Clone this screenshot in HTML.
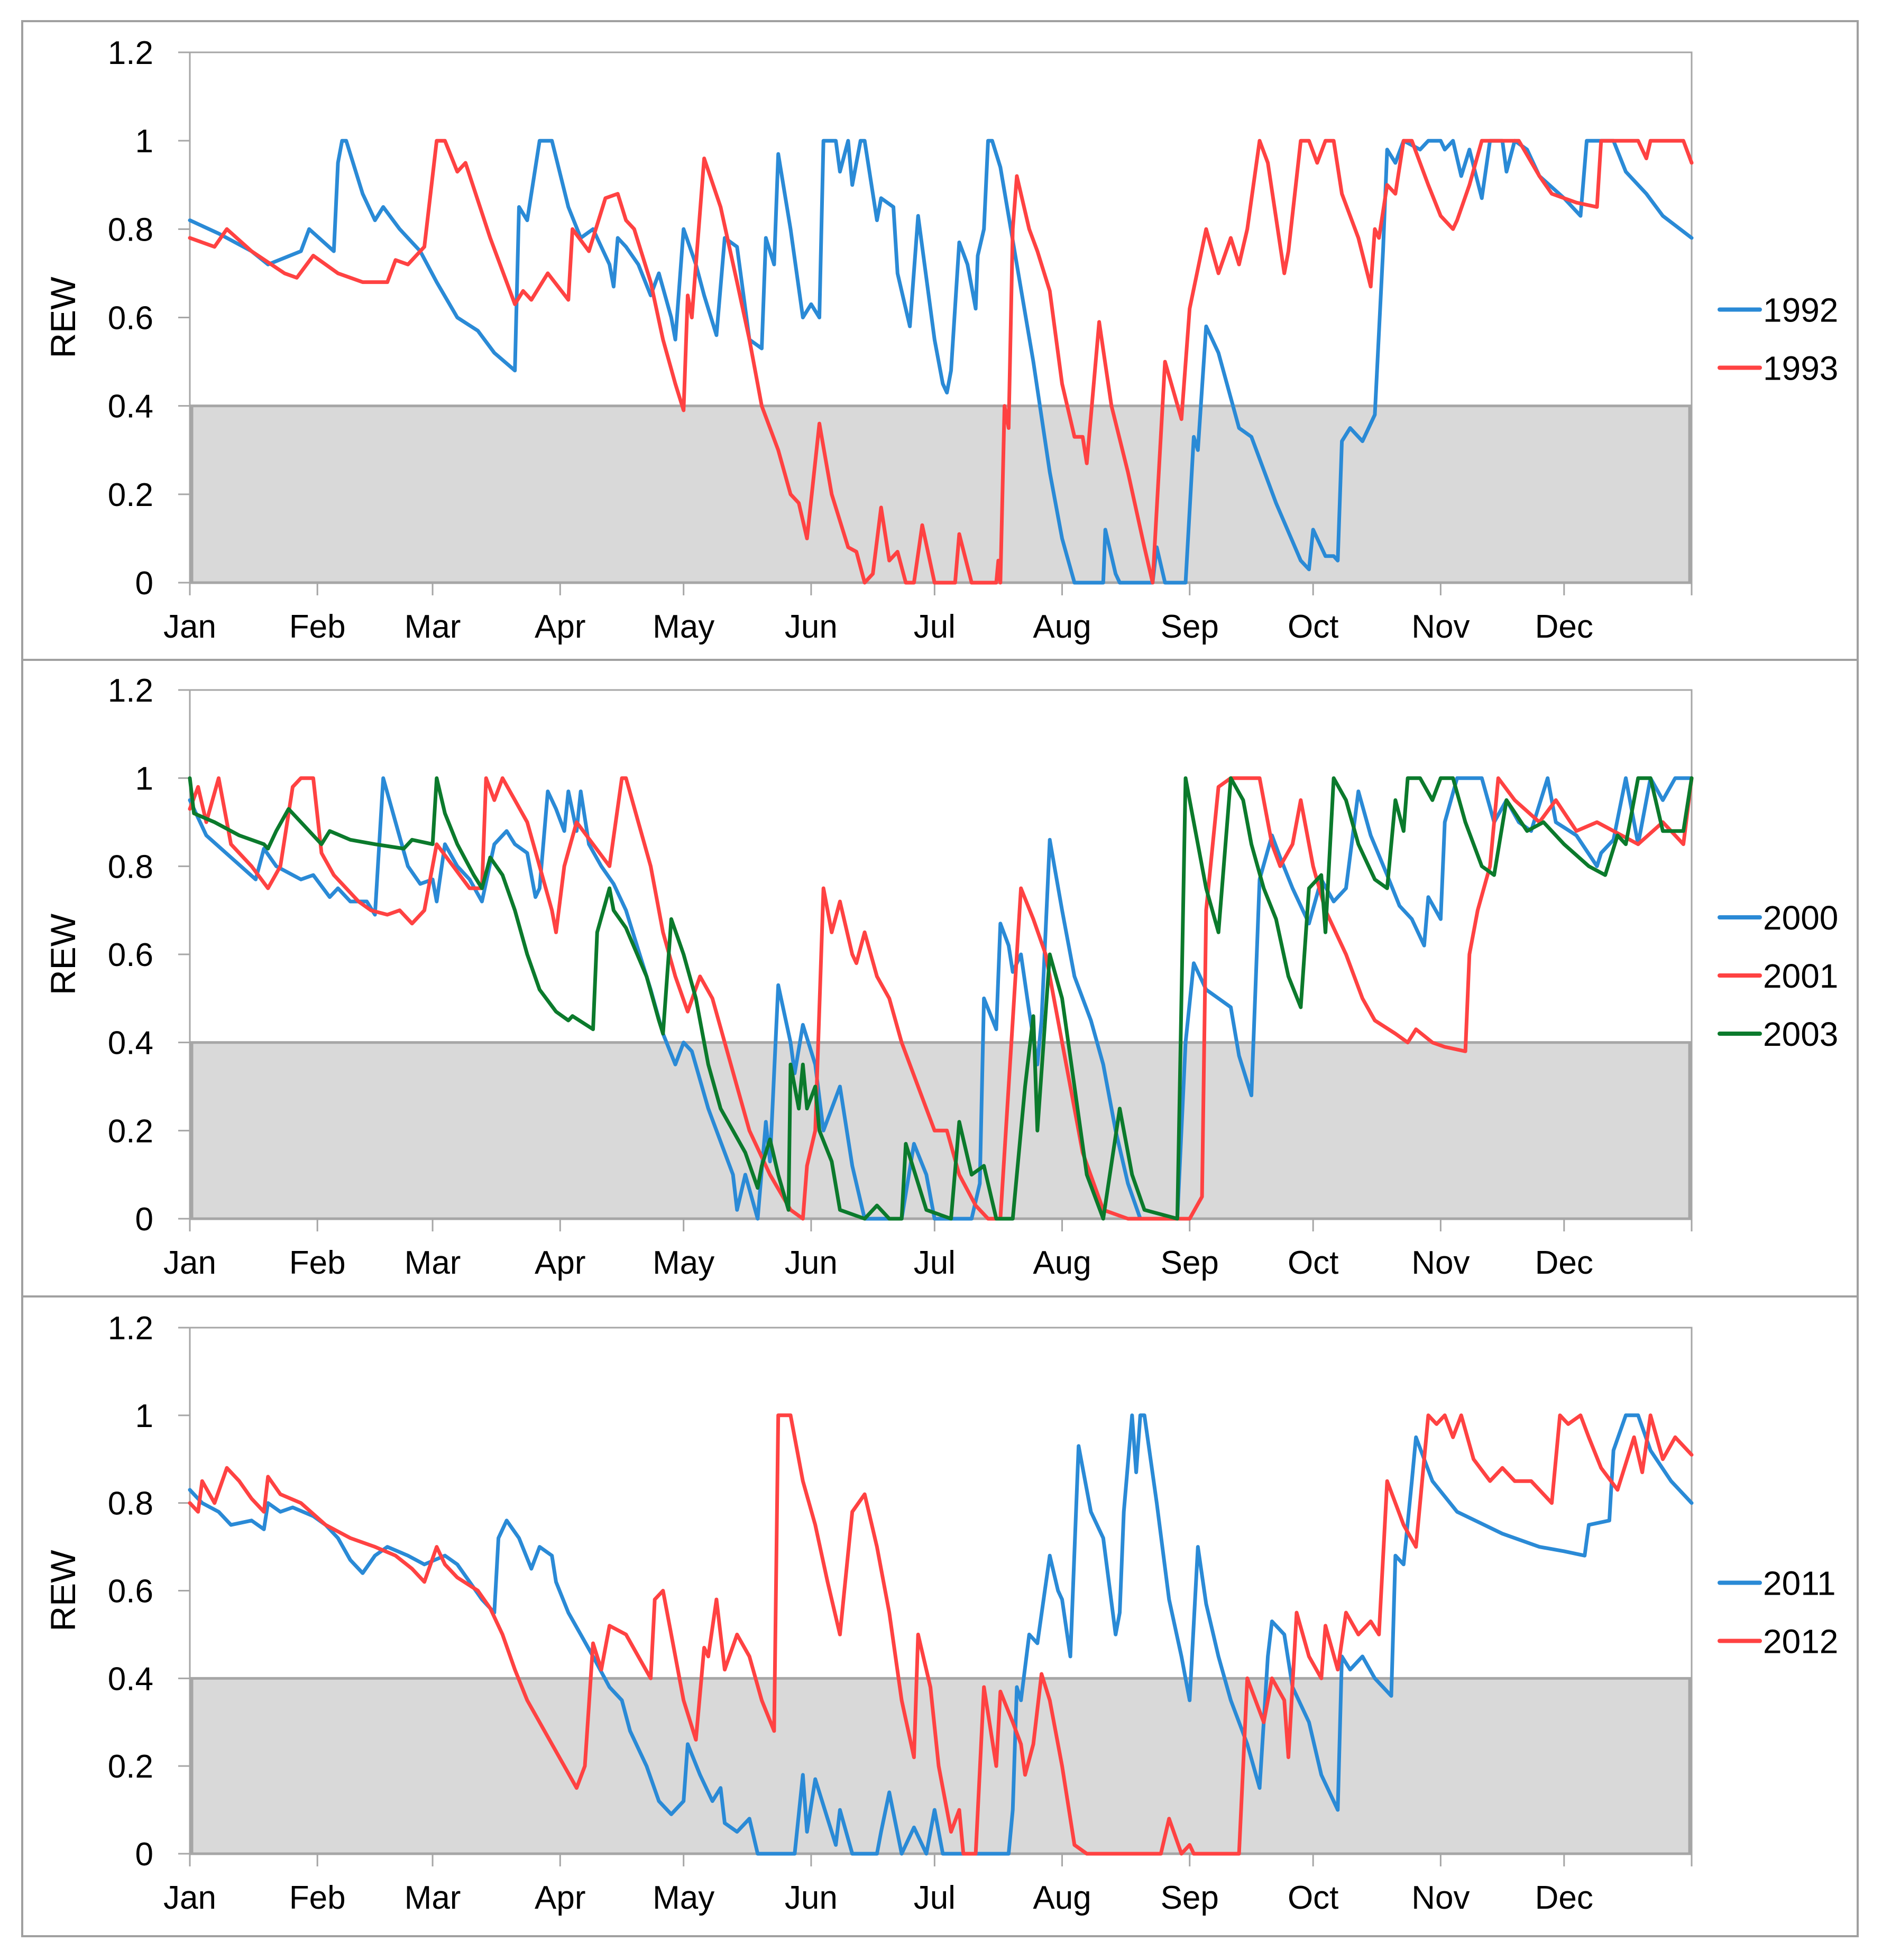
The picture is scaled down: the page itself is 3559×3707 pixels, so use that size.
<!DOCTYPE html>
<html><head><meta charset="utf-8"><style>
html,body{margin:0;padding:0;background:#fff;}
svg{display:block;font-family:"Liberation Sans",sans-serif;}
</style></head><body>
<svg id="chart" width="3559" height="3707" viewBox="0 0 3559 3707" xmlns="http://www.w3.org/2000/svg"></svg>
<script>
// ---- data (day of year, REW) ----
const months = ["Jan","Feb","Mar","Apr","May","Jun","Jul","Aug","Sep","Oct","Nov","Dec"];
const monthStarts = [0,31,59,90,120,151,181,212,243,273,304,334,365];
const yTicks = [0,0.2,0.4,0.6,0.8,1,1.2];
const yTickLabels = ["0","0.2","0.4","0.6","0.8","1","1.2"];
const thresholdValue = 0.4;

const d1992 = [0,7,15,19,27,29,35,36,37,38,42,45,47,51,56,60,65,70,74,79,80,82,83,85,88,92,95,98,102,103,104,106,109,112,114,117,118,120,123,125,128,130,133,136,139,140,142,143,146,149,151,153,154,157,158,160,161,163,164,167,168,171,172,175,177,181,183,184,185,187,189,191,191.5,193,194,195,197,201,205,209,212,215,222,222.5,225,226,234,235,237,242,244,245,247,250,255,258,264,270,272,273,276,278,279,280,282,285,288,290,291,293,295,299,301,304,305,307,309,311,314,316,319,320,322,325,328,334,338,339.5,346,349,354,358,365];
const v1992 = [0.82,0.79,0.75,0.72,0.75,0.8,0.75,0.95,1,1,0.88,0.82,0.85,0.8,0.75,0.68,0.6,0.57,0.52,0.48,0.85,0.82,0.88,1,1,0.85,0.78,0.8,0.72,0.67,0.78,0.76,0.72,0.65,0.7,0.6,0.55,0.8,0.72,0.65,0.56,0.78,0.76,0.55,0.53,0.78,0.72,0.97,0.8,0.6,0.63,0.6,1,1,0.93,1,0.9,1,1,0.82,0.87,0.85,0.7,0.58,0.83,0.55,0.45,0.43,0.48,0.77,0.72,0.62,0.74,0.8,1,1,0.94,0.72,0.5,0.25,0.1,0,0,0.12,0.02,0,0,0.08,0,0,0.33,0.3,0.58,0.52,0.35,0.33,0.18,0.05,0.03,0.12,0.06,0.06,0.05,0.32,0.35,0.32,0.38,0.75,0.98,0.95,1,0.98,1,1,0.98,1,0.92,0.98,0.87,1,1,0.93,1,0.98,0.92,0.87,0.83,1,1,0.93,0.88,0.83,0.78];

const d1993 = [0,6,9,15,23,26,30,36,42,48,50,53,57,60,62,65,67,73,79,81,83,87,92,93,97,101,104,106,108,112,115,118,120,121,122,125,129,133,136,139,143,146,148,150,153,156,160,162,164,166,168,170,172,174,176,178,181,186,187,190,196,196.5,197,198,199,200,201,204,206,209,212,215,217,218,221,224,228,232,234,237,241,243,247,250,253,255,257,260,262,266,267,270,272,274,276,278,280,284,287,288,289,291,293,295,297,301,304,307,308,311,314,323,328,331,337,342,343,352,354,355,363,365];
const v1993 = [0.78,0.76,0.8,0.75,0.7,0.69,0.74,0.7,0.68,0.68,0.73,0.72,0.76,1,1,0.93,0.95,0.78,0.63,0.66,0.64,0.7,0.64,0.8,0.75,0.87,0.88,0.82,0.8,0.68,0.55,0.45,0.39,0.65,0.6,0.96,0.85,0.68,0.55,0.4,0.3,0.2,0.18,0.1,0.36,0.2,0.08,0.07,0,0.02,0.17,0.05,0.07,0,0,0.13,0,0,0.11,0,0,0.05,0,0.4,0.35,0.8,0.92,0.8,0.75,0.66,0.45,0.33,0.33,0.27,0.59,0.4,0.25,0.08,0,0.5,0.37,0.62,0.8,0.7,0.78,0.72,0.8,1,0.95,0.7,0.75,1,1,0.95,1,1,0.88,0.78,0.67,0.8,0.78,0.9,0.88,1,1,0.9,0.83,0.8,0.82,0.9,1,1,0.92,0.88,0.86,0.85,1,1,0.96,1,1,0.95];

const d2000 = [0,4,10,16,18,21,27,30,34,36,39,43,45,47,50,53,56,59,60,62,65,68,71,74,77,79,82,84,85,87,89,91,92,94,95,97,100,103,106,109,112,115,118,120,122,126,130,132,133,135,138,140,141,143,146,147,149,152,154,156,158,161,164,173,176,179,181,190,192,193,196,197,199,200,202,204,206,207,209,212,215,219,222,225,228,231,240,242,244,245,247,250,253,255,258,260,263,265,268,272,275,278,281,284,287,291,294,297,300,301,304,305,308,314,317,320,323,326,330,332,337,342,343,346,349,352,355,358,361,365];
const v2000 = [0.95,0.87,0.82,0.77,0.84,0.8,0.77,0.78,0.73,0.75,0.72,0.72,0.69,1,0.9,0.8,0.76,0.77,0.72,0.85,0.8,0.77,0.72,0.85,0.88,0.85,0.83,0.73,0.75,0.97,0.93,0.88,0.97,0.88,0.97,0.85,0.8,0.76,0.7,0.61,0.52,0.42,0.35,0.4,0.38,0.25,0.15,0.1,0.02,0.1,0,0.22,0.13,0.53,0.4,0.33,0.44,0.35,0.2,0.25,0.3,0.12,0,0,0.17,0.1,0,0,0.08,0.5,0.43,0.67,0.62,0.56,0.6,0.47,0.35,0.45,0.86,0.7,0.55,0.45,0.35,0.2,0.08,0,0,0.4,0.58,0.56,0.52,0.5,0.48,0.37,0.28,0.77,0.87,0.82,0.75,0.67,0.77,0.72,0.75,0.97,0.87,0.78,0.71,0.68,0.62,0.73,0.68,0.9,1,1,0.9,0.95,0.9,0.88,1,0.9,0.87,0.8,0.83,0.86,1,0.85,1,0.95,1,1];

const d2001 = [0,2,4,7,10,15,19,22,25,27,30,32,35,38,41,44,48,51,54,57,60,64,68,71,72,74,76,79,82,85,88,89,91,94,98,102,105,106,109,112,115,118,121,124,127,130,133,136,141,146,149,150,152,154,156,158,161,162,164,167,170,173,177,181,184,187,191,194,197,200,202,205,208,211,214,217,222,228,243,246,247,250,253,260,263,265,268,270,273,276,281,285,288,293,296,298,302,305,310,311,313,316,318,322,328,332,337,342,346,352,358,363,365];
const v2001 = [0.93,0.98,0.9,1,0.85,0.8,0.75,0.8,0.98,1,1,0.83,0.78,0.75,0.72,0.7,0.69,0.7,0.67,0.7,0.85,0.8,0.75,0.75,1,0.95,1,0.95,0.9,0.8,0.7,0.65,0.8,0.9,0.85,0.8,1,1,0.9,0.8,0.65,0.55,0.47,0.55,0.5,0.4,0.3,0.2,0.1,0.02,0,0.12,0.2,0.75,0.65,0.72,0.6,0.58,0.65,0.55,0.5,0.4,0.3,0.2,0.2,0.1,0.03,0,0,0.45,0.75,0.68,0.6,0.45,0.3,0.15,0.02,0,0,0.05,0.7,0.98,1,1,0.85,0.8,0.85,0.95,0.8,0.7,0.6,0.5,0.45,0.42,0.4,0.43,0.4,0.39,0.38,0.6,0.7,0.8,1,0.95,0.9,0.95,0.88,0.9,0.88,0.85,0.9,0.85,1];

const d2003 = [0,1,6,12,18,19,21,24,27,32,34,39,45,52,54,59,60,62,65,69,71,73,76,79,82,85,89,92,93,98,99,102,103,106,111,114,115,117,120,123,126,129,132,135,138,139,141,143,145.5,146,148,149,150,152,153,156,158,164,167,170,173,174,179,185,187,190,193,196,200,202,203,205,206,209,212,215,218,222,226,229,232,240,242,244,247,250,253,256,258,261,264,267,270,272,275,276,278,281,284,288,291,293,295,296,299,302,304,307,310,314,317,320,325,329,334,340,344,347,349,352,355,358,363,365];
const v2003 = [1,0.92,0.9,0.87,0.85,0.84,0.88,0.93,0.9,0.85,0.88,0.86,0.85,0.84,0.86,0.85,1,0.92,0.85,0.78,0.75,0.82,0.78,0.7,0.6,0.52,0.47,0.45,0.46,0.43,0.65,0.75,0.7,0.66,0.55,0.45,0.42,0.68,0.6,0.5,0.35,0.25,0.2,0.15,0.07,0.12,0.18,0.1,0.02,0.35,0.25,0.35,0.25,0.3,0.2,0.13,0.02,0,0.03,0,0,0.17,0.02,0,0.22,0.1,0.12,0,0,0.2,0.3,0.46,0.2,0.6,0.5,0.3,0.1,0,0.25,0.1,0.02,0,1,0.9,0.75,0.65,1,0.95,0.85,0.75,0.68,0.55,0.48,0.75,0.78,0.65,1,0.95,0.85,0.77,0.75,0.95,0.88,1,1,0.95,1,1,0.9,0.8,0.78,0.95,0.88,0.9,0.85,0.8,0.78,0.87,0.85,1,1,0.88,0.88,1];

const d2011 = [0,3,7,10,15,18,19,22,25,30,33,36,39,42,45,48,53,57,62,65,68,71,74,75,77,80,83,85,88,89,92,95,98,102,105,107,111,114,117,120,121,124,127,129,130,133,136,138,147,149,150,152,155,157,158,161,167,168,170,173,176,179,181,183,199,200,201,202,204,206,209,211,212,214,216,219,222,225,226,227,229,230,231,232,235,238,241,243,245,247,250,253,257,260,262,263,266,268,272,275,279,280,282,285,288,292,293,295,297,298,302,308,319,328,334,339,340,345,346,349,352,355,360,365];
const v2011 = [0.83,0.8,0.78,0.75,0.76,0.74,0.8,0.78,0.79,0.77,0.75,0.72,0.67,0.64,0.68,0.7,0.68,0.66,0.68,0.66,0.62,0.58,0.55,0.72,0.76,0.72,0.65,0.7,0.68,0.62,0.55,0.5,0.45,0.38,0.35,0.28,0.2,0.12,0.09,0.12,0.25,0.18,0.12,0.15,0.07,0.05,0.08,0,0,0.18,0.05,0.17,0.08,0.02,0.1,0,0,0.05,0.14,0,0.06,0,0.1,0,0,0.1,0.38,0.35,0.5,0.48,0.68,0.6,0.58,0.45,0.93,0.78,0.72,0.5,0.55,0.78,1,0.87,1,1,0.8,0.58,0.45,0.35,0.7,0.57,0.45,0.35,0.25,0.15,0.45,0.53,0.5,0.38,0.3,0.18,0.1,0.45,0.42,0.45,0.4,0.36,0.68,0.66,0.85,0.95,0.85,0.78,0.73,0.7,0.69,0.68,0.75,0.76,0.92,1,1,0.92,0.85,0.8];

const d2012 = [0,2,3,6,9,12,15,18,19,22,27,33,39,45,50,54,57,60,62,65,70,73,76,79,82,85,88,91,94,96,98,100,102,106,109,112,113,115,117,120,123,125,126,128,130,133,136,139,142,143,146,149,152,155,158,161,164,167,170,173,176,177,180,182,185,187,188,191,193,196,197,200,202,203,205,207,209,212,215,218,236,238,241,243,244,255,257,261,263,266,267,269,272,275,276,279,281,284,287,289,291,295,298,301,303,305,307,309,312,316,319,322,326,331,333,335,338,340,343,347,351,353,355,358,361,365];
const v2012 = [0.8,0.78,0.85,0.8,0.88,0.85,0.81,0.78,0.86,0.82,0.8,0.75,0.72,0.7,0.68,0.65,0.62,0.7,0.66,0.63,0.6,0.56,0.5,0.42,0.35,0.3,0.25,0.2,0.15,0.2,0.48,0.42,0.52,0.5,0.45,0.4,0.58,0.6,0.5,0.35,0.26,0.47,0.45,0.58,0.42,0.5,0.45,0.35,0.28,1,1,0.85,0.75,0.62,0.5,0.78,0.82,0.7,0.55,0.35,0.22,0.5,0.38,0.2,0.05,0.1,0,0,0.38,0.2,0.37,0.3,0.25,0.18,0.25,0.41,0.35,0.2,0.02,0,0,0.08,0,0.02,0,0,0.4,0.3,0.4,0.35,0.22,0.55,0.45,0.4,0.52,0.42,0.55,0.5,0.53,0.5,0.85,0.75,0.7,1,0.98,1,0.95,1,0.9,0.85,0.88,0.85,0.85,0.8,1,0.98,1,0.95,0.88,0.83,0.95,0.87,1,0.9,0.95,0.91];

const BLUE="#2a8ad6", RED="#ff4242", GREEN="#0b7a2c";
const panels = [
  {name:"panel-1992-1993", series:[{label:"1992",d:d1992,v:v1992,c:BLUE},{label:"1993",d:d1993,v:v1993,c:RED}]},
  {name:"panel-2000-2003", series:[{label:"2000",d:d2000,v:v2000,c:BLUE},{label:"2001",d:d2001,v:v2001,c:RED},{label:"2003",d:d2003,v:v2003,c:GREEN}]},
  {name:"panel-2011-2012", series:[{label:"2011",d:d2011,v:v2011,c:BLUE},{label:"2012",d:d2012,v:v2012,c:RED}]}
];

// ---- layout ----
const svg=document.getElementById('chart');
const NS="http://www.w3.org/2000/svg";
function mk(tag,attrs,parent){const e=document.createElementNS(NS,tag);for(const k in attrs)e.setAttribute(k,attrs[k]);(parent||svg).appendChild(e);return e;}
const X0=359, X1=3199;
const panelTops=[99,1305,2511], panelBots=[1102,2305,3506];
const separators=[1248,2452];
function xs(day){return X0+(day/365)*(X1-X0);}

const outer=mk('rect',{x:42,y:40,width:3471,height:3622,fill:"none",stroke:"#a0a0a0","stroke-width":4});



panels.forEach((p,pi)=>{
  const top=panelTops[pi], bot=panelBots[pi], PH=bot-top;
  const ys=v=>bot-(v/1.2)*PH;
  const g=mk('g',{});
  
  
  if(pi>0){
    const sep=mk('line',{x1:42,x2:3513,y1:separators[pi-1],y2:separators[pi-1],stroke:"#a0a0a0","stroke-width":4},g);
    
    
  }
  const pa=mk('rect',{x:X0,y:top,width:X1-X0,height:PH,fill:"none",stroke:"#a6a6a6","stroke-width":3},g);
  
  
  const band=mk('rect',{x:X0+4,y:ys(thresholdValue),width:X1-X0-8,height:ys(0)-ys(thresholdValue),fill:"#d9d9d9",stroke:"#a6a6a6","stroke-width":5},g);
  
  
  yTicks.forEach((t,i)=>{
    mk('line',{x1:X0-22,x2:X0,y1:ys(t),y2:ys(t),stroke:"#a6a6a6","stroke-width":3},g);
    const tx=mk('text',{x:290,y:ys(t)+22,"text-anchor":"end","font-size":62,fill:"#000"},g);
    tx.textContent=yTickLabels[i];
    
    
  });
  mk('line',{x1:X0,x2:X0,y1:top,y2:bot,stroke:"#a6a6a6","stroke-width":3},g);
  mk('line',{x1:X0,x2:X1,y1:bot,y2:bot,stroke:"#a6a6a6","stroke-width":3},g);
  monthStarts.forEach(ms=>{mk('line',{x1:xs(ms),x2:xs(ms),y1:bot,y2:bot+24,stroke:"#a6a6a6","stroke-width":3},g);});
  months.forEach((m,i)=>{
    const tx=mk('text',{x:xs(monthStarts[i]),y:bot+104,"text-anchor":"middle","font-size":62,fill:"#000"},g);
    tx.textContent=m;
    
    
  });
  const yt=mk('text',{x:0,y:0,"text-anchor":"middle","font-size":66,fill:"#000",transform:`translate(142,${(top+bot)/2}) rotate(-90)`},g);
  yt.textContent="REW";
  
  
  p.series.forEach(s=>{
    const pts=s.d.map((d,i)=>xs(d).toFixed(1)+","+ys(s.v[i]).toFixed(1)).join(" ");
    const pl=mk('polyline',{points:pts,fill:"none",stroke:s.c,"stroke-width":7,"stroke-linejoin":"round","stroke-linecap":"round"},g);
    
    
  });
  const n=p.series.length, mid=(top+bot)/2+40;
  p.series.forEach((s,i)=>{
    const ly=mid+(i-(n-1)/2)*110;
    const lg=mk('g',{},g);
    
    
    mk('line',{x1:3252,x2:3328,y1:ly,y2:ly,stroke:s.c,"stroke-width":8,"stroke-linecap":"round"},lg);
    const t=mk('text',{x:3334,y:ly+23,"font-size":64,fill:"#000"},lg);
    t.textContent=s.label;
  });
});
</script>
</body></html>
